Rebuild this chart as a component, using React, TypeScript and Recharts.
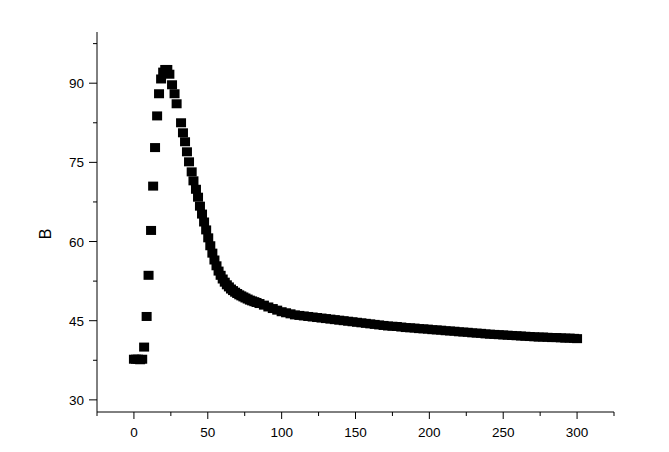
import { ScatterChart, Scatter, XAxis, YAxis, Label } from 'recharts';

// time axis (rise, peak, decay, tail)
const xValues = [
  0, 1.4, 2.8, 4.2, 5.6, 6.9, 8.6, 9.9, 11.6, 13.0, 14.3, 15.7, 17.0, 18.4, 19.8, 21.2, 22.6, 24.0,
  25.8, 27.5, 28.9, 31.9, 33.2, 34.6, 35.9, 37.3, 39.1, 40.3, 42.0, 43.4, 44.7,
  46.1, 47.5, 48.9, 50.3, 51.7, 53.1, 54.5, 55.9, 57.3, 58.7, 60.1, 61.5, 62.9, 64.3, 65.7, 67.1,
  68.5, 69.9, 71.3, 72.7, 74.1, 75.5, 77.0, 78.5, 80.0, 81.5, 83.0,
  85, 88, 91, 94, 97, 100, 103, 106, 109, 112, 115, 118, 121, 124, 127, 130, 133, 136, 139, 142,
  145, 148, 151, 154, 157, 160, 163, 166, 169, 172, 175, 178, 181, 184, 187, 190, 193, 196, 199,
  202, 205, 208, 211, 214, 217, 220, 223, 226, 229, 232, 235, 238, 241, 244, 247, 250, 253, 256,
  259, 262, 265, 268, 271, 274, 277, 280, 283, 286, 289, 292, 295, 298, 300,
];

const bValues = [
  37.7, 37.7, 37.7, 37.6, 37.7, 40.0, 45.8, 53.6, 62.1, 70.5, 77.8, 83.8, 88.0, 90.8, 92.1, 92.6, 92.6, 91.7,
  89.7, 88.0, 86.1, 82.5, 80.6, 78.9, 77.0, 75.1, 73.2, 71.5, 69.9, 68.4, 66.7,
  65.2, 63.7, 62.2, 60.7, 59.2, 57.8, 56.5, 55.4, 54.4, 53.6, 52.9, 52.3, 51.8, 51.4, 51.0, 50.7,
  50.4, 50.15, 49.9, 49.7, 49.5, 49.3, 49.1, 48.9, 48.75, 48.6, 48.45,
  48.25, 47.95, 47.6, 47.3, 47.0, 46.7, 46.5, 46.3, 46.1, 46.0, 45.9, 45.8, 45.7, 45.6, 45.5, 45.4, 45.3, 45.2, 45.1, 45.0,
  44.9, 44.8, 44.7, 44.6, 44.5, 44.4, 44.3, 44.2, 44.1, 44.0, 43.95, 43.9, 43.8, 43.7, 43.65, 43.6, 43.5, 43.45, 43.4,
  43.3, 43.25, 43.2, 43.1, 43.05, 43.0, 42.9, 42.85, 42.8, 42.7, 42.65, 42.6, 42.5, 42.45, 42.4, 42.35, 42.3, 42.25, 42.2,
  42.15, 42.1, 42.05, 42.0, 41.95, 41.9, 41.9, 41.85, 41.8, 41.8, 41.75, 41.7, 41.7, 41.65, 41.6,
];

const xTicks = [-25, 0, 25, 50, 75, 100, 125, 150, 175, 200, 225, 250, 275, 300, 325];
const xLabels = [0, 50, 100, 150, 200, 250, 300];
const yTicks = [30, 37.5, 45, 52.5, 60, 67.5, 75, 82.5, 90, 97.5];
const yLabels = [30, 45, 60, 75, 90];

const data = xValues.map((x, i) => ({ x, b: bValues[i] }));

const font = '"Liberation Sans", Arial, sans-serif';

const XTick = (props: any) => {
  const { x, y, payload } = props;
  const major = xLabels.includes(payload.value);
  return (
    <g>
      <line x1={x} x2={x} y1={y} y2={y + (major ? 7 : 4)} stroke="#000" />
      {major && (
        <text x={x} y={y + 25} textAnchor="middle" fontSize={13.5} fontFamily={font} fill="#000">
          {payload.value}
        </text>
      )}
    </g>
  );
};

const YTick = (props: any) => {
  const { x, y, payload } = props;
  const major = yLabels.includes(payload.value);
  return (
    <g>
      <line x1={x - (major ? 8 : 4)} x2={x} y1={y} y2={y} stroke="#000" />
      {major && (
        <text x={x - 13} y={y + 5} textAnchor="end" fontSize={13.5} fontFamily={font} fill="#000">
          {payload.value}
        </text>
      )}
    </g>
  );
};

const Square = (props: any) => {
  const { cx, cy } = props;
  return <rect x={cx - 5} y={cy - 4.5} width={10} height={9} fill="#000" />;
};

export default function App() {
  return (
    <div style={{ position: 'absolute', left: 0, top: 0, background: '#fff' }}>
      <ScatterChart width={669} height={452} margin={{ top: 32, right: 55, bottom: 0, left: 37 }}>
        <XAxis
          type="number"
          dataKey="x"
          domain={[-25, 325]}
          ticks={xTicks}
          interval={0}
          allowDataOverflow
          height={40}
          tickSize={0}
          tickMargin={0}
          tickLine={false}
          axisLine={{ stroke: '#000' }}
          tick={<XTick />}
        />
        <YAxis
          type="number"
          dataKey="b"
          domain={[27.7, 99.7]}
          ticks={yTicks}
          interval={0}
          allowDataOverflow
          width={60}
          tickSize={0}
          tickMargin={0}
          tickLine={false}
          axisLine={{ stroke: '#000' }}
          tick={<YTick />}
        >
          <Label
            content={() => (
              <text
                transform="translate(45, 234) rotate(-90)"
                textAnchor="middle"
                dominantBaseline="central"
                fontSize={16}
                fontFamily={font}
                fill="#000"
              >
                B
              </text>
            )}
          />
        </YAxis>
        <Scatter data={data} fill="#000" shape={<Square />} isAnimationActive={false} />
      </ScatterChart>
    </div>
  );
}
